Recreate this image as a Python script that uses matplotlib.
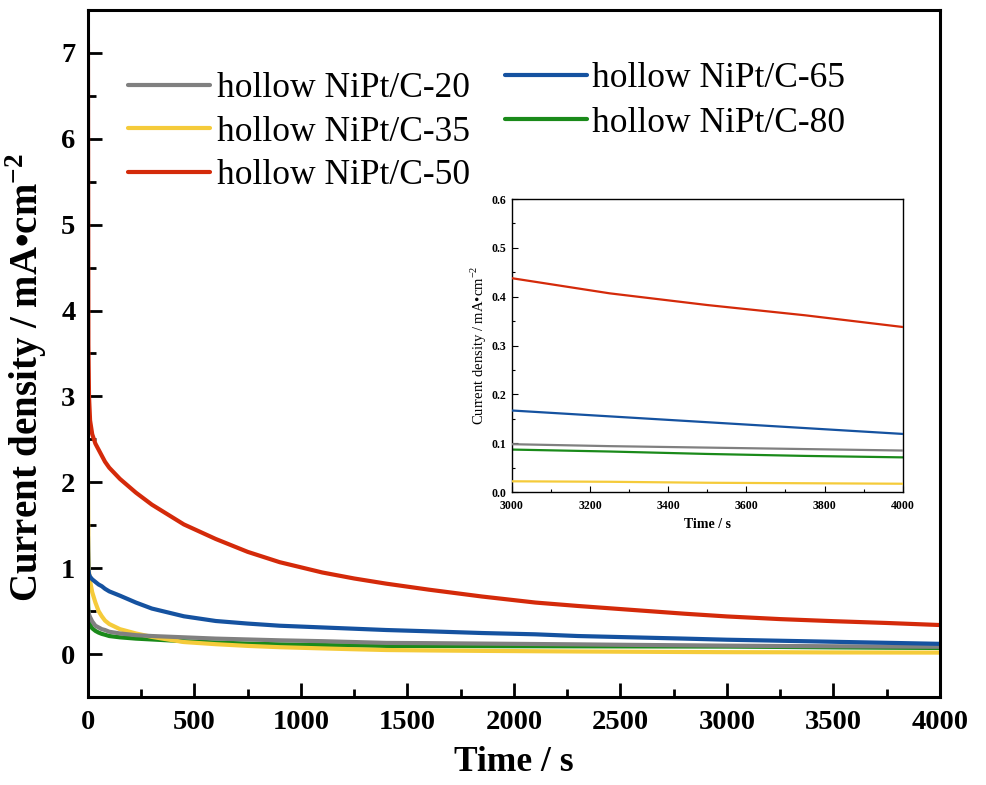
import matplotlib
matplotlib.use("Agg")
import matplotlib.pyplot as plt
from matplotlib.ticker import MultipleLocator

plt.rcParams['font.family'] = ['Liberation Serif', 'DejaVu Serif']
plt.rcParams['mathtext.fontset'] = 'custom'
plt.rcParams['mathtext.rm'] = 'Liberation Serif'
plt.rcParams['mathtext.bf'] = 'Liberation Serif:bold'

time = [0, 2, 5, 10, 20, 35, 50, 65, 80, 100, 150, 225, 300, 450, 600, 750, 900, 1100,
        1250, 1400, 1600, 1850, 2100, 2300, 2550, 2800, 3000, 3250, 3500, 3750, 4000]
labels = ["hollow NiPt/C-20", "hollow NiPt/C-35", "hollow NiPt/C-50",
          "hollow NiPt/C-65", "hollow NiPt/C-80"]
colors = ["#808080", "#F5CB3A", "#D42A0A", "#1552A0", "#1A8A1A"]

c20 = [0.55, 0.50, 0.46, 0.43, 0.38, 0.33, 0.31, 0.29, 0.28, 0.26, 0.24, 0.22, 0.21, 0.195,
       0.18, 0.17, 0.16, 0.15, 0.14, 0.13, 0.127, 0.122, 0.117, 0.113, 0.107, 0.102,
       0.098, 0.094, 0.091, 0.088, 0.085]
c35 = [2.05, 1.20, 0.95, 0.85, 0.72, 0.60, 0.50, 0.44, 0.39, 0.35, 0.29, 0.24, 0.20, 0.14,
       0.115, 0.095, 0.08, 0.066, 0.056, 0.047, 0.042, 0.037, 0.033, 0.030, 0.027, 0.024,
       0.022, 0.021, 0.019, 0.018, 0.017]
c50 = [7.10, 3.60, 3.00, 2.72, 2.56, 2.45, 2.38, 2.31, 2.24, 2.17, 2.04, 1.88, 1.74, 1.51,
       1.34, 1.19, 1.07, 0.95, 0.88, 0.82, 0.75, 0.67, 0.60, 0.56, 0.515, 0.47,
       0.438, 0.407, 0.383, 0.362, 0.338]
c65 = [1.37, 1.00, 0.93, 0.90, 0.87, 0.84, 0.81, 0.79, 0.76, 0.73, 0.68, 0.60, 0.53, 0.44,
       0.385, 0.355, 0.33, 0.31, 0.295, 0.28, 0.265, 0.245, 0.23, 0.21, 0.195, 0.18,
       0.167, 0.155, 0.143, 0.131, 0.119]
c80 = [0.68, 0.45, 0.38, 0.34, 0.30, 0.27, 0.25, 0.235, 0.225, 0.21, 0.195, 0.18, 0.17, 0.15,
       0.135, 0.122, 0.113, 0.105, 0.10, 0.095, 0.093, 0.092, 0.091, 0.090, 0.089, 0.088,
       0.087, 0.083, 0.078, 0.074, 0.071]
series = [c20, c35, c50, c65, c80]
zorders = [4, 3, 6, 5, 2]

fig = plt.figure(figsize=(9.86, 7.85), dpi=100)
ax = fig.add_axes([0.0892, 0.1121, 0.8641, 0.8752])
lines = []
for y, c, lab, z in zip(series, colors, labels, zorders):
    ln, = ax.plot(time, y, color=c, lw=3, label=lab, solid_capstyle='round',
                  solid_joinstyle='round', zorder=z)
    lines.append(ln)
ax.set_xlim(0, 4000)
ax.set_ylim(-0.5, 7.5)
ax.xaxis.set_major_locator(MultipleLocator(500))
ax.xaxis.set_minor_locator(MultipleLocator(250))
ax.yaxis.set_major_locator(MultipleLocator(1))
ax.yaxis.set_minor_locator(MultipleLocator(0.5))
ax.tick_params(which='both', direction='in', width=2, labelsize=20.5, top=False, right=False)
ax.tick_params(which='major', length=10, pad=9)
ax.tick_params(which='minor', length=6)
for lab in ax.get_xticklabels() + ax.get_yticklabels():
    lab.set_fontweight('bold')
for s in ax.spines.values():
    s.set_linewidth(2.2)
    s.set_zorder(10)
ax.set_xlabel("Time / s", fontsize=25.5, fontweight='bold', labelpad=8)
ax.set_ylabel(r"Current density / mA•cm$^{\mathbf{-2}}$", fontsize=28, fontweight='bold')
ax.yaxis.set_label_coords(-0.046, 0.465)

leg1 = ax.legend(handles=lines[:3], loc='upper left', bbox_to_anchor=(0.0305, 0.930), frameon=False,
                 fontsize=25.5, handlelength=2.3, handletextpad=0.22, labelspacing=0.3, borderaxespad=0)
ax.add_artist(leg1)
ax.legend(handles=lines[3:], loc='upper left', bbox_to_anchor=(0.473, 0.945), frameon=False,
          fontsize=25.5, handlelength=2.3, handletextpad=0.15, labelspacing=0.33, borderaxespad=0)

ins = fig.add_axes([0.519, 0.3732, 0.3966, 0.3732])
for y, c, z in zip(series, colors, zorders):
    ins.plot(time, y, color=c, lw=1.6, zorder=z)
ins.set_xlim(3000, 4000)
ins.set_ylim(0, 0.6)
ins.xaxis.set_major_locator(MultipleLocator(200))
ins.xaxis.set_minor_locator(MultipleLocator(100))
ins.yaxis.set_major_locator(MultipleLocator(0.1))
ins.yaxis.set_minor_locator(MultipleLocator(0.05))
ins.tick_params(which='both', direction='in', labelsize=8.5, width=0.8, top=False, right=False)
ins.tick_params(which='major', length=4)
ins.tick_params(axis='x', which='major', pad=6)
ins.tick_params(axis='y', which='major', pad=4)
ins.tick_params(which='minor', length=2)
for lab in ins.get_xticklabels() + ins.get_yticklabels():
    lab.set_fontweight('bold')
for s in ins.spines.values():
    s.set_linewidth(1)
ins.set_xlabel("Time / s", fontsize=10, fontweight='bold', labelpad=4)
ins.set_ylabel(r"Current density / mA•cm$^{-2}$", fontsize=10.5, labelpad=2)

fig.savefig("out.png", dpi=100)
